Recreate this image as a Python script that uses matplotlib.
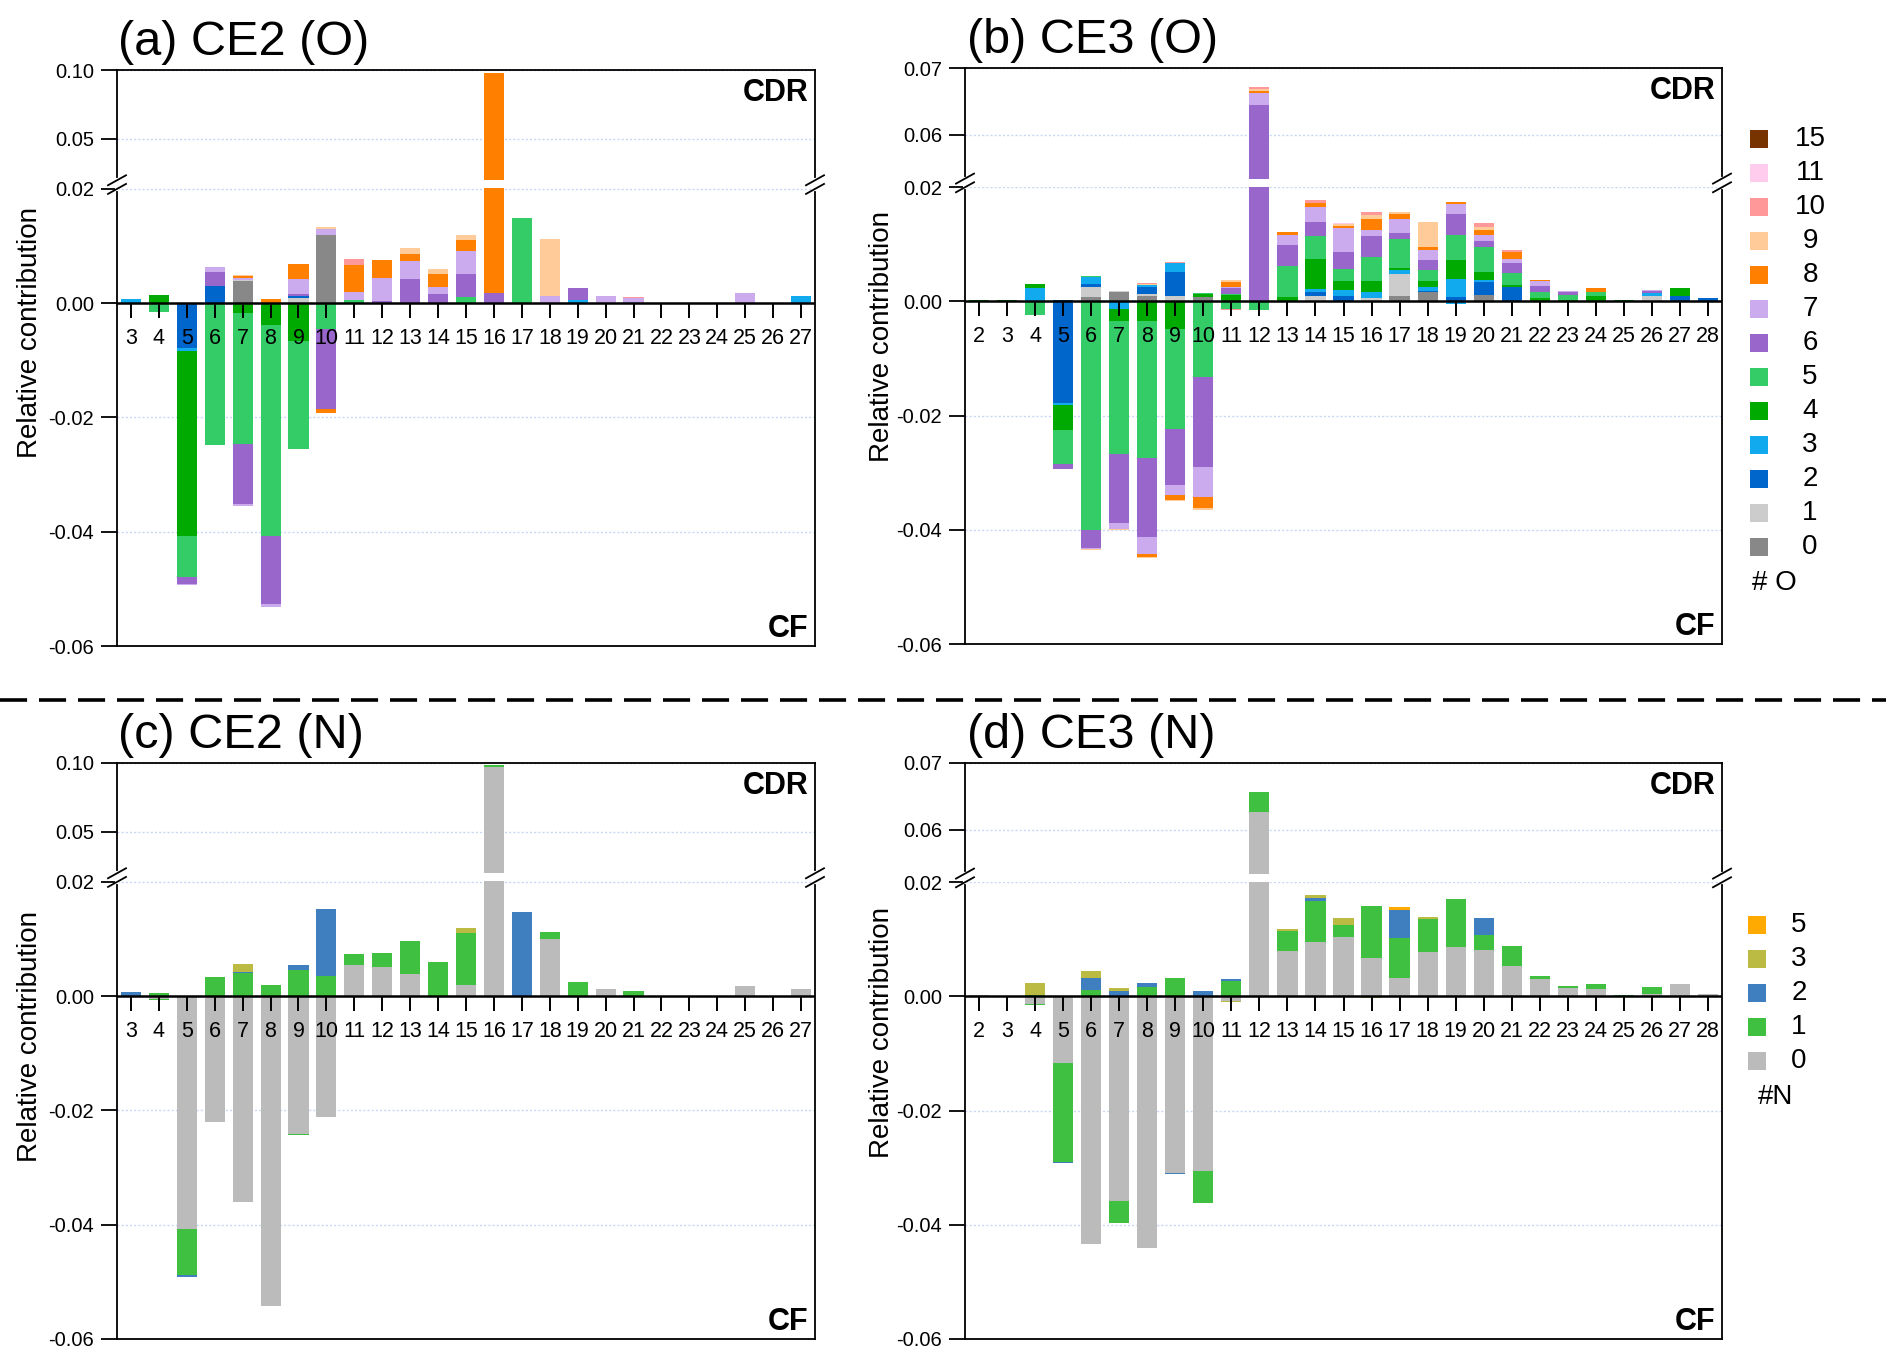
import numpy as np
import matplotlib
matplotlib.use('Agg')
import matplotlib.pyplot as plt
from matplotlib.lines import Line2D
from matplotlib.patches import Rectangle
from matplotlib.ticker import NullLocator

plt.rcParams['font.family'] = ['Liberation Sans', 'DejaVu Sans']

# ---- data: {series: {category: value}} ----
cats_ce2 = list(range(3, 28))
cats_ce3 = list(range(2, 29))

o_colors = {0: '#888888', 1: '#cccccc', 2: '#0066cc', 3: '#11aaee', 4: '#00aa00',
            5: '#33cc66', 6: '#9966cc', 7: '#ccaaee', 8: '#ff8000', 9: '#ffcc99',
            10: '#ff9999', 11: '#ffccee', 15: '#773300'}
n_colors = {0: '#bbbbbb', 1: '#40c040', 2: '#3f7fc0', 3: '#bbbb44', 5: '#ffaa00'}
o_legend = [15, 11, 10, 9, 8, 7, 6, 5, 4, 3, 2, 1, 0]
n_legend = [5, 3, 2, 1, 0]

# (a) CE2 (O)
a_cdr = {
    0: {7: 0.0038, 10: 0.0120},
    1: {7: 0.0003, 9: 0.0009},
    2: {6: 0.0030, 9: 0.0004},
    3: {3: 0.0007, 19: 0.0006, 27: 0.0012},
    4: {4: 0.0014},
    5: {11: 0.0005, 15: 0.0010, 17: 0.0149},
    6: {6: 0.0025, 9: 0.0003, 12: 0.0003, 13: 0.0042, 14: 0.0016, 15: 0.0041, 16: 0.0017, 19: 0.0020},
    7: {6: 0.0009, 7: 0.0003, 9: 0.0026, 10: 0.0010, 11: 0.0015, 12: 0.0041, 13: 0.0031,
        14: 0.0013, 15: 0.0041, 18: 0.0013, 20: 0.0013, 21: 0.0009, 25: 0.0017},
    8: {7: 0.0003, 8: 0.0007, 9: 0.0026, 11: 0.0047, 12: 0.0032, 13: 0.0013, 14: 0.0022,
        15: 0.0019, 16: 0.0963},
    9: {7: 0.0002, 10: 0.0004, 13: 0.0010, 14: 0.0009, 15: 0.0009, 18: 0.0100},
    10: {11: 0.0010, 21: 0.0001},
}
a_cf = {
    2: {5: -0.0079},
    3: {5: -0.0004},
    4: {5: -0.0325, 7: -0.0018, 8: -0.0039, 9: -0.0066},
    5: {4: -0.0016, 5: -0.0072, 6: -0.0249, 7: -0.0228, 8: -0.0369, 9: -0.0189, 10: -0.0045},
    6: {5: -0.0011, 7: -0.0106, 8: -0.0118, 10: -0.0140},
    7: {5: -0.0002, 7: -0.0003, 8: -0.0005},
    8: {10: -0.0007},
}

# (b) CE3 (O)
b_cdr = {
    0: {6: 0.0007, 7: 0.0017, 8: 0.0009, 10: 0.0008, 17: 0.0010, 18: 0.0016, 20: 0.0012},
    1: {6: 0.0019, 7: 0.0001, 8: 0.0004, 9: 0.0010, 14: 0.0010, 16: 0.0006, 17: 0.0038, 26: 0.0010},
    2: {5: 0.0002, 6: 0.0005, 8: 0.0012, 9: 0.0042, 14: 0.0007, 15: 0.0010, 18: 0.0003,
        19: 0.0007, 20: 0.0022, 21: 0.0025, 27: 0.0010, 28: 0.0006},
    3: {4: 0.0024, 6: 0.0012, 8: 0.0003, 9: 0.0015, 14: 0.0005, 15: 0.0010, 16: 0.0011,
        17: 0.0007, 18: 0.0007, 19: 0.0033, 20: 0.0003, 26: 0.0005},
    4: {2: 0.0003, 3: 0.0002, 4: 0.0006, 10: 0.0005, 11: 0.0011, 13: 0.0008, 14: 0.0052,
        15: 0.0015, 16: 0.0018, 17: 0.0004, 18: 0.0009, 19: 0.0032, 20: 0.0015, 21: 0.0003,
        22: 0.0006, 23: 0.0003, 24: 0.0010, 25: 0.0003, 27: 0.0013},
    5: {6: 0.0002, 10: 0.0002, 11: 0.0002, 13: 0.0054, 14: 0.0040, 15: 0.0021, 16: 0.0043,
        17: 0.0051, 18: 0.0020, 19: 0.0045, 20: 0.0044, 21: 0.0021, 22: 0.0010, 23: 0.0009,
        24: 0.0006},
    6: {11: 0.0010, 12: 0.0645, 13: 0.0036, 14: 0.0026, 15: 0.0031, 16: 0.0037, 17: 0.0010,
        18: 0.0018, 19: 0.0037, 20: 0.0010, 21: 0.0018, 22: 0.0011, 23: 0.0004, 26: 0.0003},
    7: {11: 0.0003, 12: 0.0017, 13: 0.0019, 14: 0.0025, 15: 0.0041, 16: 0.0011, 17: 0.0024,
        18: 0.0017, 19: 0.0016, 20: 0.0010, 21: 0.0007, 22: 0.0008, 23: 0.0003, 26: 0.0002},
    8: {11: 0.0008, 12: 0.0004, 13: 0.0004, 14: 0.0007, 15: 0.0005, 16: 0.0018, 17: 0.0010,
        18: 0.0005, 19: 0.0004, 20: 0.0009, 21: 0.0013, 22: 0.0002, 24: 0.0007},
    9: {8: 0.0002, 11: 0.0004, 12: 0.0002, 15: 0.0002, 16: 0.0007, 17: 0.0003, 18: 0.0045,
        20: 0.0006, 22: 0.0001},
    10: {8: 0.0002, 9: 0.0002, 12: 0.0003, 14: 0.0006, 16: 0.0005, 20: 0.0007, 21: 0.0003},
    11: {15: 0.0003},
}
b_cf = {
    2: {5: -0.0178},
    3: {5: -0.0004, 7: -0.0013, 19: -0.0004},
    4: {5: -0.0044, 7: -0.0022, 8: -0.0035, 9: -0.0049},
    5: {4: -0.0023, 5: -0.0058, 6: -0.0400, 7: -0.0232, 8: -0.0240, 9: -0.0175, 10: -0.0133,
        11: -0.0013, 12: -0.0015},
    6: {5: -0.0010, 6: -0.0031, 7: -0.0121, 8: -0.0137, 9: -0.0097, 10: -0.0157},
    7: {6: -0.0003, 7: -0.0010, 8: -0.0031, 9: -0.0018, 10: -0.0052},
    8: {8: -0.0004, 9: -0.0008, 10: -0.0020},
    9: {6: -0.0002, 7: -0.0002, 8: -0.0002, 9: -0.0002, 10: -0.0004},
    10: {11: -0.0002},
}

# (c) CE2 (N)
c_cdr = {
    0: {11: 0.0055, 12: 0.0051, 13: 0.0038, 15: 0.0020, 16: 0.0969, 18: 0.0100, 20: 0.0013,
        25: 0.0017, 27: 0.0012},
    1: {4: 0.0005, 6: 0.0034, 7: 0.0041, 8: 0.0019, 9: 0.0046, 10: 0.0035, 11: 0.0019,
        12: 0.0025, 13: 0.0059, 14: 0.0059, 15: 0.0090, 16: 0.0017, 18: 0.0013, 19: 0.0025,
        21: 0.0009},
    2: {3: 0.0008, 7: 0.0002, 9: 0.0008, 10: 0.0118, 17: 0.0148},
    3: {7: 0.0014, 15: 0.0010},
}
c_cf = {
    0: {4: -0.0005, 5: -0.0408, 6: -0.0220, 7: -0.0360, 8: -0.0542, 9: -0.0242, 10: -0.0212},
    1: {4: -0.0001, 5: -0.0080, 7: -0.0001, 9: -0.0001},
    2: {5: -0.0003},
}

# (d) CE3 (N)
d_cdr = {
    0: {2: 0.0002, 3: 0.0001, 12: 0.0627, 13: 0.0080, 14: 0.0095, 15: 0.0104, 16: 0.0067,
        17: 0.0033, 18: 0.0077, 19: 0.0087, 20: 0.0082, 21: 0.0054, 22: 0.0030, 23: 0.0014,
        24: 0.0013, 26: 0.0005, 27: 0.0022, 28: 0.0005},
    1: {4: 0.0003, 6: 0.0011, 8: 0.0016, 9: 0.0033, 11: 0.0027, 12: 0.0030, 13: 0.0035,
        14: 0.0072, 15: 0.0021, 16: 0.0092, 17: 0.0069, 18: 0.0059, 19: 0.0084, 20: 0.0025,
        21: 0.0035, 22: 0.0006, 23: 0.0005, 24: 0.0009, 25: 0.0003, 26: 0.0011},
    2: {6: 0.0022, 7: 0.0010, 8: 0.0008, 10: 0.0010, 11: 0.0004, 14: 0.0006, 17: 0.0049,
        20: 0.0031},
    3: {4: 0.0020, 6: 0.0012, 7: 0.0005, 13: 0.0004, 14: 0.0005, 15: 0.0013, 17: 0.0001,
        18: 0.0004},
    5: {17: 0.0005},
}
d_cf = {
    0: {4: -0.0014, 5: -0.0116, 6: -0.0434, 7: -0.0359, 8: -0.0440, 9: -0.0309, 10: -0.0306,
        11: -0.0008},
    1: {4: -0.0001, 5: -0.0174, 7: -0.0038, 10: -0.0056},
    2: {5: -0.0002, 9: -0.0002},
    3: {8: -0.0001, 11: -0.0002, 16: -0.0003},
}

# broken y axis: value knots -> relative screen positions
ce2_knots = ([-0.06, 0.02, 0.05, 0.10], [-1029, 343, 493, 700])
ce3_knots = ([-0.06, 0.02, 0.06, 0.07], [-1027, 344, 502, 702])
ce2_ticks = [-0.06, -0.04, -0.02, 0.00, 0.02, 0.05, 0.10]
ce3_ticks = [-0.06, -0.04, -0.02, 0.00, 0.02, 0.06, 0.07]

W, H = 1892, 1365
fig = plt.figure(figsize=(W / 100, H / 100), dpi=100)


def piecewise(xk, yk):
    xk = np.asarray(xk, float)
    yk = np.asarray(yk, float)
    lo = (yk[1] - yk[0]) / (xk[1] - xk[0])
    hi = (yk[-1] - yk[-2]) / (xk[-1] - xk[-2])

    def f(v):
        v = np.asarray(v, float)
        out = np.interp(v, xk, yk)
        out = np.where(v < xk[0], yk[0] + (v - xk[0]) * lo, out)
        out = np.where(v > xk[-1], yk[-1] + (v - xk[-1]) * hi, out)
        return out
    return f


def panel(box, cats, cdr, cf, colors, knots, yticks):
    l, t, r, b = box
    ax = fig.add_axes([l / W, 1 - b / H, (r - l) / W, (b - t) / H])
    fwd = piecewise(*knots)
    inv = piecewise(knots[1], knots[0])
    ax.set_yscale('function', functions=(fwd, inv))

    for data in (cdr, cf):
        base = np.zeros(len(cats))
        for k in sorted(data):
            vals = np.array([data[k].get(c, 0.0) for c in cats])
            ax.bar(cats, vals, bottom=base, width=0.72, color=colors[k], lw=0, zorder=2)
            base += vals

    ymin, ymax = knots[0][0], knots[0][-1]
    ax.set_ylim(ymin, ymax)
    ax.set_xlim(cats[0] - 0.5, cats[-1] + 0.5)
    ax.set_xticks([])
    ax.set_yticks(yticks)
    ax.set_yticklabels([f'{v:.2f}' for v in yticks])
    ax.yaxis.set_minor_locator(NullLocator())
    ax.tick_params(axis='y', direction='out', length=11.5, width=1.3, labelsize=14.5, pad=5)
    ax.yaxis.grid(True, color='#c9d7f5', lw=1.0, ls=(0, (1.5, 1.5)))
    ax.set_axisbelow(True)
    for s in ax.spines.values():
        s.set_linewidth(1.3)

    ax.axhline(0, color='black', lw=1.8, zorder=3)
    ax.vlines(cats, -0.0026, 0, colors='black', lw=1.4, zorder=4)
    for c in cats:
        ax.text(c, -0.0061, str(c), ha='center', va='center', fontsize=15.5, zorder=5)

    ax.text(0.991, 0.986, 'CDR', transform=ax.transAxes, ha='right', va='top',
            fontsize=22, fontweight='bold')
    ax.text(0.991, 0.016, 'CF', transform=ax.transAxes, ha='right', va='baseline',
            fontsize=22, fontweight='bold')

    # axis break at 0.02
    p0 = fwd(0.02)
    gap_lo = float(inv(p0 + 1.5))
    gap_hi = float(inv(p0 + 26))
    ax.axhspan(gap_lo, gap_hi, facecolor='white', edgecolor='none', zorder=2.6)
    span = fwd(ymax) - fwd(ymin)
    yf0 = float((p0 - fwd(ymin)) / span)
    yf1 = float((p0 + 26 - fwd(ymin)) / span)
    dx, dy = 9 / (r - l), 5 / (b - t)
    for xs in (0, 1):
        ax.plot([xs, xs], [yf0, yf1], transform=ax.transAxes, color='white', lw=3,
                clip_on=False, zorder=5)
        for yy in (yf0, yf1):
            ax.plot([xs - dx, xs + dx], [yy - dy, yy + dy], transform=ax.transAxes,
                    color='black', lw=1.3, clip_on=False, zorder=6)
    return ax


panel((117, 70, 815, 646), cats_ce2, a_cdr, a_cf, o_colors, ce2_knots, ce2_ticks)
panel((965, 68, 1722, 644), cats_ce3, b_cdr, b_cf, o_colors, ce3_knots, ce3_ticks)
panel((117, 763, 815, 1339), cats_ce2, c_cdr, c_cf, n_colors, ce2_knots, ce2_ticks)
panel((965, 763, 1722, 1339), cats_ce3, d_cdr, d_cf, n_colors, ce3_knots, ce3_ticks)

for txt, x, y in [('(a) CE2 (O)', 118, 55), ('(b) CE3 (O)', 967, 53),
                  ('(c) CE2 (N)', 118, 748), ('(d) CE3 (N)', 967, 748)]:
    fig.text(x / W, 1 - y / H, txt, fontsize=35, ha='left', va='baseline')

for x, y in [(30, 332), (882, 337), (30, 1037), (882, 1032)]:
    fig.text(x / W, 1 - y / H, 'Relative contribution', fontsize=20, rotation=90,
             ha='center', va='center')

fig.add_artist(Line2D([0, 1886 / W], [1 - 700 / H, 1 - 700 / H], transform=fig.transFigure,
                      color='black', lw=2.6, ls=(0, (7.5, 3.3))))


def legend(keys, colors, y0, xpatch, xlabel, title, xtitle, ytitle):
    for i, k in enumerate(keys):
        yc = y0 + 34 * i
        fig.add_artist(Rectangle(((xpatch - 9) / W, 1 - (yc + 9) / H), 18 / W, 18 / H,
                                 transform=fig.transFigure, facecolor=colors[k],
                                 edgecolor='none'))
        fig.text(xlabel / W, 1 - yc / H, str(k), fontsize=20, ha='center', va='center')
    fig.text(xtitle / W, 1 - ytitle / H, title, fontsize=20, ha='left', va='center')


legend(o_legend, o_colors, 139, 1759, 1810, '# O', 1752, 583)
legend(n_legend, n_colors, 925, 1757, 1799, '#N', 1758, 1097)

fig.savefig('out.png', dpi=100)
